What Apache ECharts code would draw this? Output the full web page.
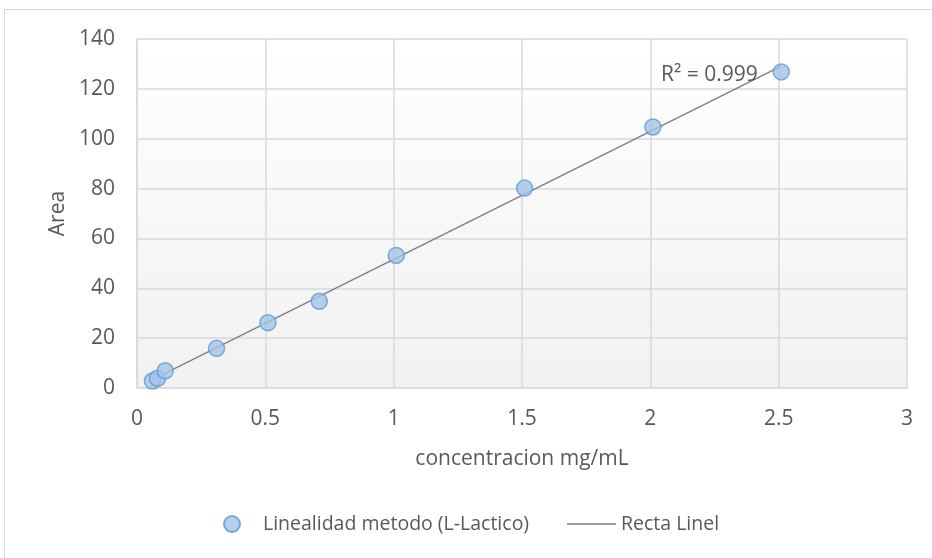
<!DOCTYPE html>
<html><head><meta charset="utf-8">
<script src="https://cdn.jsdelivr.net/npm/echarts@6/dist/echarts.min.js"></script>
<style>html,body{margin:0;padding:0;background:#fff}#c{width:932px;height:558px}</style>
</head><body><div id="c"></div>
<script>
const concentracion = [0.06, 0.08, 0.11, 0.31, 0.51, 0.71, 1.01, 1.51, 2.01, 2.51];
const area = [2.8, 3.9, 6.9, 15.9, 26.2, 34.8, 53.2, 80.2, 104.7, 126.8];
const seriesName = 'Linealidad metodo (L-Lactico)';
const trendName = 'Recta Linel';
const r2Label = 'R² = 0.999';

// linear regression for the trendline
const n = concentracion.length;
const mx = concentracion.reduce((a,b)=>a+b,0)/n;
const my = area.reduce((a,b)=>a+b,0)/n;
let sxy=0, sxx=0;
for (let i=0;i<n;i++){ sxy+=(concentracion[i]-mx)*(area[i]-my); sxx+=(concentracion[i]-mx)**2; }
const slope = sxy/sxx, intercept = my - slope*mx;
const xmin = Math.min(...concentracion), xmax = Math.max(...concentracion);
const trend = [[xmin, intercept+slope*xmin],[xmax, intercept+slope*xmax]];

const font = 'Open Sans';
const fs = 21;
const lfs = 19.5;
const txt = '#595959';
const chart = echarts.init(document.getElementById('c'));
chart.setOption({
  animation:false,
  textStyle:{fontFamily:font},
  graphic:[{type:'rect', shape:{x:4.5,y:9.5,width:1000,height:600}, style:{fill:'none',stroke:'#d9d9d9',lineWidth:1}, z:-10}],
  grid:{left:137, top:39, right:25, bottom:170, show:true, borderWidth:0,
    backgroundColor:{type:'linear',x:0,y:0,x2:0,y2:1,colorStops:[{offset:0,color:'#ffffff'},{offset:1,color:'#f1f1f1'}]}},
  xAxis:{type:'value', min:0, max:3, interval:0.5,
    name:'concentracion mg/mL', nameLocation:'middle', nameGap:61,
    nameTextStyle:{fontSize:fs, color:txt, fontFamily:font},
    axisLine:{show:true, lineStyle:{color:'#d9d9d9', width:1.5}},
    axisTick:{show:false},
    axisLabel:{fontSize:fs, color:txt, margin:21, formatter:v=>String(v)},
    splitLine:{show:true, lineStyle:{color:'#d9d9d9', width:1.5}}},
  yAxis:{type:'value', min:0, max:140, interval:20,
    name:'Area', nameLocation:'middle', nameGap:68, nameRotate:90,
    nameTextStyle:{fontSize:fs, color:txt, fontFamily:font},
    axisLine:{show:true, lineStyle:{color:'#d9d9d9', width:1.5}},
    axisTick:{show:false},
    axisLabel:{fontSize:fs, color:txt, margin:22},
    splitLine:{show:true, lineStyle:{color:'#d9d9d9', width:1.5}}},
  legend:[
    {data:[{name:seriesName, icon:'circle'}], left:218, top:509, itemWidth:16, itemHeight:16,
      textStyle:{fontSize:lfs, color:txt, fontFamily:font, padding:[0,0,0,18]}},
    {data:[{name:trendName, icon:'rect'}], left:562, top:509, itemWidth:49, itemHeight:1.5,
      textStyle:{fontSize:lfs, color:txt, fontFamily:font}}
  ],
  series:[
    {name:seriesName, type:'scatter', data:concentracion.map((x,i)=>[x,area[i]]),
      symbol:'circle', symbolSize:16, z:3,
      itemStyle:{color:'#a2c3e8', borderColor:'#5b9bd5', borderWidth:1.5}},
    {name:trendName, type:'line', data:trend, symbol:'none', z:2,
      lineStyle:{color:'#808080', width:1.5}, itemStyle:{color:'#808080'},
      markPoint:{symbol:'rect', symbolSize:1, itemStyle:{color:'transparent'},
        data:[{coord:trend[1], label:{show:true, formatter:r2Label, position:'left', distance:0, offset:[-23,9], fontSize:fs, color:txt, fontFamily:font}}]}}
  ]
});
</script></body></html>
